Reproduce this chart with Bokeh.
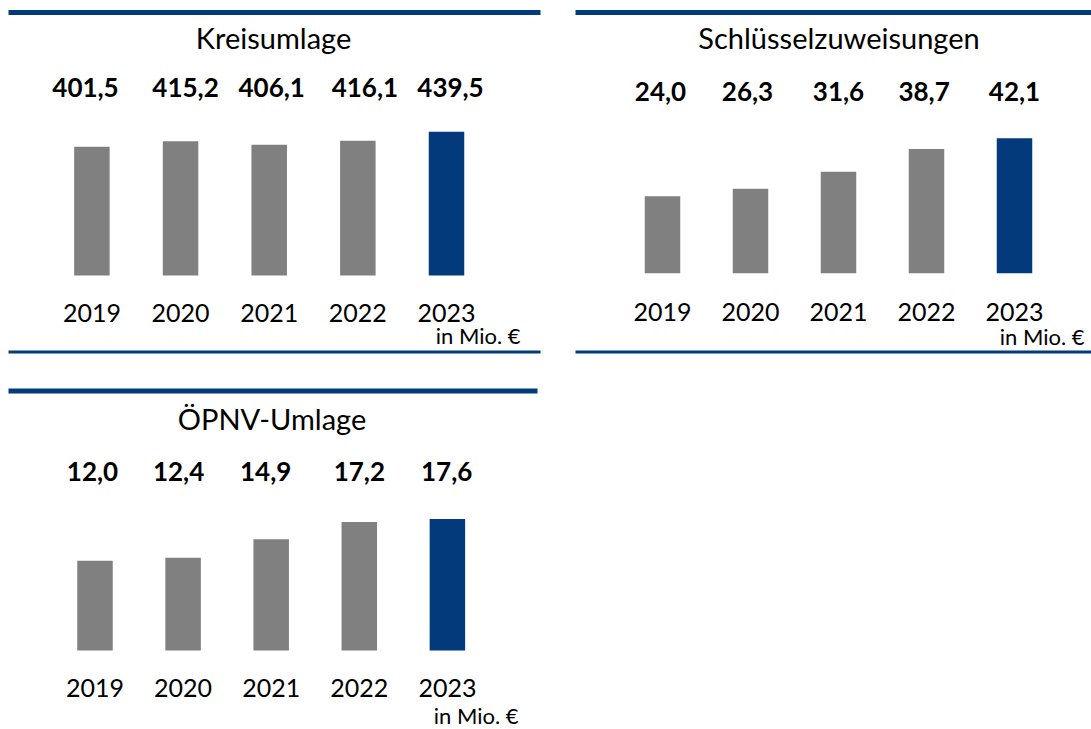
from bokeh.plotting import figure
from bokeh.models import Range1d, ColumnDataSource
from bokeh.layouts import column, row
from bokeh.core.properties import value
from bokeh.embed import file_html
from bokeh.resources import INLINE

# ---------------- data ----------------
years = [2019, 2020, 2021, 2022, 2023]
year_labels = ["2019", "2020", "2021", "2022", "2023"]
kreisumlage = [401.5, 415.2, 406.1, 416.1, 439.5]
schluesselzuweisungen = [24.0, 26.3, 31.6, 38.7, 42.1]
oepnv_umlage = [12.0, 12.4, 14.9, 17.2, 17.6]
titles = ["Kreisumlage", "Schlüsselzuweisungen", "ÖPNV-Umlage"]
unit_label = "in Mio. €"

# ---------------- style ----------------
GREY = "#808080"
BLUE = "#023A7C"
FONT = "Lato"
TXT = "#000000"
FS_VAL, FS_YEAR, FS_TITLE, FS_UNIT = 26, 25, 29, 22
SHIFT = 0.36  # baseline correction (fraction of font size)


def fmt(v):
    return f"{v:.1f}".replace(".", ",")


def panel(title, vals, cfg):
    ox, oy = cfg["origin"]
    W, H = cfg["size"]
    c0 = cfg["c0"] - ox
    sp = cfg["sp"]
    base_px = cfg["base_px"] - oy
    ppu = cfg["ppu"]
    base_val = cfg["base_val"]

    x_start = years[0] - c0 / sp
    x_end = years[0] + (W - c0) / sp
    y_top = base_val + base_px / ppu
    y_bot = base_val - (H - base_px) / ppu

    p = figure(width=W, height=H, output_backend="svg", toolbar_location=None,
               x_range=Range1d(x_start, x_end), y_range=Range1d(y_bot, y_top),
               x_axis_location=None, y_axis_location=None, min_border=0,
               outline_line_color=None, background_fill_color="white",
               border_fill_color="white")
    p.grid.visible = False
    p.extra_x_ranges = {"px": Range1d(0, W)}
    p.extra_y_ranges = {"px": Range1d(H, 0)}

    colors = [GREY] * (len(years) - 1) + [BLUE]
    src = ColumnDataSource(dict(x=years, top=vals, color=colors,
                                lbl=[fmt(v) for v in vals], yl=year_labels,
                                dx=cfg["val_dx"]))
    p.vbar(x="x", top="top", bottom=base_val, width=35.5 / sp, color="color",
           line_color=None, source=src)

    def by(b, fs):
        return b - oy - SHIFT * fs

    # value labels
    p.text(x="x", y=by(cfg["val_base"], FS_VAL), text="lbl", x_offset="dx",
           source=src, y_range_name="px", text_align="center",
           text_baseline="alphabetic", text_font=value(FONT),
           text_font_style="bold", text_font_size=value(f"{FS_VAL}px"),
           text_color=TXT)
    # year labels
    p.text(x="x", y=by(cfg["year_base"], FS_YEAR), text="yl", source=src,
           y_range_name="px", text_align="center", text_baseline="alphabetic",
           text_font=value(FONT), text_font_size=value(f"{FS_YEAR}px"),
           text_color=TXT)
    # title
    p.text(x=[cfg["title_x"] - ox], y=[by(cfg["title_base"], FS_TITLE)],
           text=[title], x_range_name="px", y_range_name="px",
           text_align="center", text_baseline="alphabetic",
           text_font=value(FONT), text_font_size=value(f"{FS_TITLE}px"),
           text_color=TXT)
    # unit label
    p.text(x=[cfg["unit_right"] - ox], y=[by(cfg["unit_base"], FS_UNIT)],
           text=[unit_label], x_range_name="px", y_range_name="px",
           text_align="right", text_baseline="alphabetic",
           text_font=value(FONT), text_font_size=value(f"{FS_UNIT}px"),
           text_color=TXT)
    # rules
    for (x0, x1, yy, lw) in cfg["rules"]:
        p.segment(x0=[x0 - ox], x1=[x1 - ox], y0=[yy - oy], y1=[yy - oy],
                  x_range_name="px", y_range_name="px", line_color=BLUE,
                  line_width=lw, line_cap="butt")
    return p


cfg1 = dict(origin=(0, 0), size=(568, 370), c0=91.4, sp=88.65, base_px=275,
            ppu=0.3947, base_val=75.0, val_base=96.7,
            val_dx=[-6.4, 5, 2.5, 7, 4], year_base=321.7, title_x=273,
            title_base=47.7, unit_right=520, unit_base=342.7,
            rules=[(8, 540, 12, 5), (8, 540, 351.5, 3)])
cfg2 = dict(origin=(568, 0), size=(523, 370), c0=662, sp=88.0, base_px=272.7,
            ppu=3.207, base_val=0.0, val_base=100.7,
            val_dx=[-2, -3, 0, -2.4, 0], year_base=320, title_x=838.5,
            title_base=47.7, unit_right=1084, unit_base=344.3,
            rules=[(575, 1091, 12, 5), (575, 1091, 351.5, 3)])
cfg3 = dict(origin=(0, 370), size=(568, 359), c0=94.5, sp=88.1, base_px=650,
            ppu=7.471, base_val=0.0, val_base=480.7,
            val_dx=[-2.5, -4.5, -5.5, 0, -0.7], year_base=696, title_x=271.5,
            title_base=428.3, unit_right=518, unit_base=723,
            rules=[(8, 537, 390.5, 5)])

p1 = panel(titles[0], kreisumlage, cfg1)
p2 = panel(titles[1], schluesselzuweisungen, cfg2)
p3 = panel(titles[2], oepnv_umlage, cfg3)

layout = column(row(p1, p2), p3)

with open("out.html", "w") as f:
    f.write(file_html(layout, INLINE))
